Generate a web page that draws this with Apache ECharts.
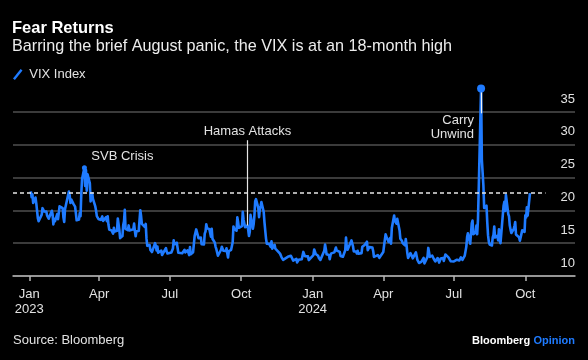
<!DOCTYPE html>
<html><head><meta charset="utf-8">
<script src="https://cdn.jsdelivr.net/npm/echarts@6/dist/echarts.min.js"></script>
<style>html,body{margin:0;padding:0;background:#000;}#c{width:588px;height:360px;}</style>
</head><body><div id="c"></div>
<script>
const dates = [
'2023-01-03','2023-01-04','2023-01-05','2023-01-06','2023-01-09','2023-01-10','2023-01-11','2023-01-12','2023-01-13','2023-01-17','2023-01-18','2023-01-19','2023-01-20','2023-01-23','2023-01-24','2023-01-25','2023-01-26','2023-01-27','2023-01-30','2023-01-31',
'2023-02-01','2023-02-02','2023-02-03','2023-02-06','2023-02-07','2023-02-08','2023-02-09','2023-02-10','2023-02-13','2023-02-14','2023-02-15','2023-02-16','2023-02-17','2023-02-21','2023-02-22','2023-02-23','2023-02-24','2023-02-27','2023-02-28',
'2023-03-01','2023-03-02','2023-03-03','2023-03-06','2023-03-07','2023-03-08','2023-03-09','2023-03-10','2023-03-13','2023-03-14','2023-03-15','2023-03-16','2023-03-17','2023-03-20','2023-03-21','2023-03-22','2023-03-23','2023-03-24','2023-03-27','2023-03-28','2023-03-29','2023-03-30','2023-03-31',
'2023-04-03','2023-04-04','2023-04-05','2023-04-06','2023-04-10','2023-04-11','2023-04-12','2023-04-13','2023-04-14','2023-04-17','2023-04-18','2023-04-19','2023-04-20','2023-04-21','2023-04-24','2023-04-25','2023-04-26','2023-04-27','2023-04-28',
'2023-05-01','2023-05-02','2023-05-03','2023-05-04','2023-05-05','2023-05-08','2023-05-09','2023-05-10','2023-05-11','2023-05-12','2023-05-15','2023-05-16','2023-05-17','2023-05-18','2023-05-19','2023-05-22','2023-05-23','2023-05-24','2023-05-25','2023-05-26','2023-05-30','2023-05-31',
'2023-06-01','2023-06-02','2023-06-05','2023-06-06','2023-06-07','2023-06-08','2023-06-09','2023-06-12','2023-06-13','2023-06-14','2023-06-15','2023-06-16','2023-06-20','2023-06-21','2023-06-22','2023-06-23','2023-06-26','2023-06-27','2023-06-28','2023-06-29','2023-06-30',
'2023-07-03','2023-07-05','2023-07-06','2023-07-07','2023-07-10','2023-07-11','2023-07-12','2023-07-13','2023-07-14','2023-07-17','2023-07-18','2023-07-19','2023-07-20','2023-07-21','2023-07-24','2023-07-25','2023-07-26','2023-07-27','2023-07-28','2023-07-31',
'2023-08-01','2023-08-02','2023-08-03','2023-08-04','2023-08-07','2023-08-08','2023-08-09','2023-08-10','2023-08-11','2023-08-14','2023-08-15','2023-08-16','2023-08-17','2023-08-18','2023-08-21','2023-08-22','2023-08-23','2023-08-24','2023-08-25','2023-08-28','2023-08-29','2023-08-30','2023-08-31',
'2023-09-01','2023-09-05','2023-09-06','2023-09-07','2023-09-08','2023-09-11','2023-09-12','2023-09-13','2023-09-14','2023-09-15','2023-09-18','2023-09-19','2023-09-20','2023-09-21','2023-09-22','2023-09-25','2023-09-26','2023-09-27','2023-09-28','2023-09-29',
'2023-10-02','2023-10-03','2023-10-04','2023-10-05','2023-10-06','2023-10-09','2023-10-10','2023-10-11','2023-10-12','2023-10-13','2023-10-16','2023-10-17','2023-10-18','2023-10-19','2023-10-20','2023-10-23','2023-10-24','2023-10-25','2023-10-26','2023-10-27','2023-10-30','2023-10-31',
'2023-11-01','2023-11-02','2023-11-03','2023-11-06','2023-11-07','2023-11-08','2023-11-09','2023-11-10','2023-11-13','2023-11-14','2023-11-15','2023-11-16','2023-11-17','2023-11-20','2023-11-21','2023-11-22','2023-11-24','2023-11-27','2023-11-28','2023-11-29','2023-11-30',
'2023-12-01','2023-12-04','2023-12-05','2023-12-06','2023-12-07','2023-12-08','2023-12-11','2023-12-12','2023-12-13','2023-12-14','2023-12-15','2023-12-18','2023-12-19','2023-12-20','2023-12-21','2023-12-22','2023-12-26','2023-12-27','2023-12-28','2023-12-29',
'2024-01-02','2024-01-03','2024-01-04','2024-01-05','2024-01-08','2024-01-09','2024-01-10','2024-01-11','2024-01-12','2024-01-16','2024-01-17','2024-01-18','2024-01-19','2024-01-22','2024-01-23','2024-01-24','2024-01-25','2024-01-26','2024-01-29','2024-01-30','2024-01-31',
'2024-02-01','2024-02-02','2024-02-05','2024-02-06','2024-02-07','2024-02-08','2024-02-09','2024-02-12','2024-02-13','2024-02-14','2024-02-15','2024-02-16','2024-02-20','2024-02-21','2024-02-22','2024-02-23','2024-02-26','2024-02-27','2024-02-28','2024-02-29',
'2024-03-01','2024-03-04','2024-03-05','2024-03-06','2024-03-07','2024-03-08','2024-03-11','2024-03-12','2024-03-13','2024-03-14','2024-03-15','2024-03-18','2024-03-19','2024-03-20','2024-03-21','2024-03-22','2024-03-25','2024-03-26','2024-03-27','2024-03-28',
'2024-04-01','2024-04-02','2024-04-03','2024-04-04','2024-04-05','2024-04-08','2024-04-09','2024-04-10','2024-04-11','2024-04-12','2024-04-15','2024-04-16','2024-04-17','2024-04-18','2024-04-19','2024-04-22','2024-04-23','2024-04-24','2024-04-25','2024-04-26','2024-04-29','2024-04-30',
'2024-05-01','2024-05-02','2024-05-03','2024-05-06','2024-05-07','2024-05-08','2024-05-09','2024-05-10','2024-05-13','2024-05-14','2024-05-15','2024-05-16','2024-05-17','2024-05-20','2024-05-21','2024-05-22','2024-05-23','2024-05-24','2024-05-28','2024-05-29','2024-05-30','2024-05-31',
'2024-06-03','2024-06-04','2024-06-05','2024-06-06','2024-06-07','2024-06-10','2024-06-11','2024-06-12','2024-06-13','2024-06-14','2024-06-17','2024-06-18','2024-06-20','2024-06-21','2024-06-24','2024-06-25','2024-06-26','2024-06-27','2024-06-28',
'2024-07-01','2024-07-02','2024-07-03','2024-07-05','2024-07-08','2024-07-09','2024-07-10','2024-07-11','2024-07-12','2024-07-15','2024-07-16','2024-07-17','2024-07-18','2024-07-19','2024-07-22','2024-07-23','2024-07-24','2024-07-25','2024-07-26','2024-07-29','2024-07-30','2024-07-31',
'2024-08-01','2024-08-02','2024-08-05','2024-08-06','2024-08-07','2024-08-08','2024-08-09','2024-08-12','2024-08-13','2024-08-14','2024-08-15','2024-08-16','2024-08-19','2024-08-20','2024-08-21','2024-08-22','2024-08-23','2024-08-26','2024-08-27','2024-08-28','2024-08-29','2024-08-30',
'2024-09-03','2024-09-04','2024-09-05','2024-09-06','2024-09-09','2024-09-10','2024-09-11','2024-09-12','2024-09-13','2024-09-16','2024-09-17','2024-09-18','2024-09-19','2024-09-20','2024-09-23','2024-09-24','2024-09-25','2024-09-26','2024-09-27','2024-09-30',
'2024-10-01','2024-10-02','2024-10-03','2024-10-04','2024-10-07'
];
const vix = [
22.90,22.01,22.46,21.13,21.97,21.07,21.09,18.83,18.35,19.36,20.34,20.52,19.85,19.81,19.20,19.08,18.73,18.51,19.94,19.40,
17.87,18.73,18.33,19.43,18.66,19.63,20.63,20.53,20.34,18.91,18.23,20.17,20.02,22.87,22.29,21.14,21.67,20.95,20.70,
20.58,19.59,18.49,18.61,19.59,19.11,22.61,24.80,26.52,23.73,26.14,22.99,25.51,24.12,21.38,22.26,22.61,21.74,20.60,19.97,19.12,19.02,18.70,
18.55,18.58,19.08,18.40,18.97,18.34,19.09,17.80,17.07,16.95,16.83,16.46,17.35,16.77,16.89,18.76,18.84,17.03,15.78,
16.08,17.78,18.34,20.09,17.19,16.98,17.71,16.94,16.93,17.03,17.12,17.99,16.87,16.05,16.81,16.87,18.53,20.03,19.14,17.95,17.46,17.94,
15.65,14.60,14.73,13.96,13.94,13.65,13.83,15.01,14.61,13.88,14.50,13.54,13.88,13.20,12.91,13.44,14.25,13.74,13.43,13.54,13.59,
13.57,14.18,15.44,14.83,15.07,14.84,13.54,13.61,13.34,13.48,13.30,13.76,13.99,13.60,13.91,13.86,13.19,14.41,13.33,13.63,
13.93,16.09,15.92,17.10,15.77,15.99,15.96,15.85,14.84,14.82,16.46,16.78,17.89,17.30,17.13,16.97,15.98,17.20,15.68,15.08,14.45,14.09,13.57,
13.09,14.00,14.45,14.40,13.84,13.80,14.23,13.48,12.82,13.79,14.00,14.11,15.14,17.54,17.20,16.90,18.94,18.22,17.34,17.52,
17.61,19.78,18.58,18.49,17.45,17.70,17.03,16.09,16.69,19.32,17.21,17.88,19.22,21.40,21.71,20.37,18.97,20.19,20.68,21.27,19.75,18.14,
16.87,15.66,14.91,14.89,14.81,14.45,15.29,14.17,14.76,14.16,14.18,14.32,13.80,13.41,13.35,12.85,12.46,12.69,12.69,12.98,12.92,
12.63,13.08,12.85,12.97,12.35,12.35,12.63,12.07,12.19,12.48,12.28,12.56,12.53,13.67,13.65,13.03,12.99,12.43,12.47,12.45,
13.20,14.04,14.13,13.35,13.08,12.76,12.69,12.44,12.70,13.84,14.79,14.13,13.30,13.19,12.55,13.14,13.45,13.26,13.60,13.31,14.35,
13.88,13.85,13.67,13.06,12.83,12.79,12.93,13.93,15.85,14.38,14.01,14.24,15.42,15.34,14.54,13.75,13.74,13.43,13.84,13.40,
13.11,13.49,14.46,14.50,14.44,14.74,15.23,13.93,13.75,14.40,14.41,14.33,13.82,12.92,13.06,13.06,13.19,13.24,12.78,13.01,
13.65,14.61,14.33,16.35,16.03,15.19,15.22,15.80,14.91,17.31,19.23,18.40,18.21,18.00,18.71,16.94,15.69,15.97,15.37,15.03,14.67,15.65,
14.68,13.49,12.75,13.49,13.23,13.00,12.69,12.55,13.60,13.42,12.45,12.42,11.99,12.15,11.86,12.29,12.77,11.93,12.92,14.28,14.47,12.92,
13.11,13.16,12.63,12.58,12.22,12.74,12.85,12.04,11.94,12.66,12.75,12.30,13.28,13.20,12.84,12.55,12.55,12.24,12.44,
12.22,12.03,12.09,12.48,12.37,12.51,12.85,12.85,12.46,13.12,13.19,14.48,15.93,16.52,14.91,14.72,18.04,18.46,16.39,16.60,17.69,16.36,
18.59,23.39,38.57,27.71,27.85,23.79,20.37,20.71,18.12,16.19,15.23,14.80,14.65,15.88,16.27,17.55,15.86,16.15,15.43,17.11,15.65,15.00,
20.72,21.32,19.90,22.38,19.45,19.08,17.69,17.07,16.56,17.14,17.61,18.23,16.33,16.15,15.89,15.39,15.41,15.37,16.96,16.73,
19.26,18.90,20.49,19.21,22.64
];
const tickDates = ['2023-01-01','2023-04-01','2023-07-01','2023-10-01','2024-01-01','2024-04-01','2024-07-01','2024-10-01'];
const tickLabels = ['Jan\n2023','Apr','Jul','Oct','Jan\n2024','Apr','Jul','Oct'];
const annotationDates = ['2023-03-13','2023-10-09','2024-08-05'];
const annotationLabels = ['SVB Crisis','Hamas Attacks','Carry\nUnwind'];
const seriesName = 'VIX Index';

const FONT = "'Liberation Sans', Arial, sans-serif";
const BLUE = '#1f7bff';
const TXT = '#e2e2e2';
const ts = s => Date.parse(s + 'T00:00:00Z');
const DAY = 864e5;
const xMin = ts('2022-12-11');
const xMax = ts('2024-12-04');
const tickTs = tickDates.map(ts);
const data = dates.map((d, i) => [ts(d), vix[i]]);
const valAt = d => vix[dates.indexOf(d)];
const lastT = ts(dates[dates.length - 1]);
const lastV = vix[vix.length - 1];

const [svbD, hamasD, carryD] = annotationDates;
const [svbL, hamasL, carryL] = annotationLabels;

const chart = echarts.init(document.getElementById('c'), null, {renderer: 'canvas'});
chart.setOption({
  backgroundColor: '#000',
  animation: false,
  textStyle: {fontFamily: FONT},
  title: {
    text: 'Fear Returns',
    subtext: 'Barring the brief August panic, the VIX is at an 18-month high',
    left: 12, top: 19, padding: 0, itemGap: 1,
    textStyle: {color: '#fff', fontSize: 16.5, fontWeight: 'bold', lineHeight: 18, fontFamily: FONT},
    subtextStyle: {color: '#ececec', fontSize: 16.2, lineHeight: 18, fontFamily: FONT}
  },
  legend: {
    data: [seriesName], left: 13, top: 68, padding: 0, itemGap: 10,
    itemWidth: 11, itemHeight: 11,
    icon: 'path://M0,10 L8,0 L10,1.6 L2,11.6 Z',
    textStyle: {color: TXT, fontSize: 13, fontFamily: FONT, padding: [0,0,0,1]}
  },
  grid: {left: 13, right: 13, top: 79.2, bottom: 84},
  xAxis: {
    type: 'value', min: xMin, max: xMax,
    axisLine: {show: true, lineStyle: {color: '#b5b5b5', width: 1.5}},
    axisTick: {show: true, customValues: tickTs, length: 5, lineStyle: {color: '#b5b5b5', width: 1.5}},
    axisLabel: {
      customValues: tickTs, color: TXT, fontSize: 13, lineHeight: 15, margin: 11, fontFamily: FONT,
      formatter: v => { const i = tickTs.findIndex(t => Math.abs(t - v) < DAY); return i >= 0 ? tickLabels[i] : ''; }
    },
    splitLine: {show: false}
  },
  yAxis: {
    type: 'value', position: 'right', min: 10, max: 40, interval: 5,
    axisLine: {show: false}, axisTick: {show: false},
    axisLabel: {inside: true, margin: 0, showMaxLabel: false, color: TXT, fontSize: 13, fontFamily: FONT, verticalAlign: 'bottom', lineHeight: 14, padding: [0,0,6,0]},
    splitLine: {show: true, showMaxLine: false, lineStyle: {color: '#4f4f4f', width: 1.5}}
  },
  series: [{
    name: seriesName, type: 'line', data: data, showSymbol: false,
    lineStyle: {color: BLUE, width: 2.6, join: 'round'}, itemStyle: {color: BLUE},
    markLine: {
      silent: true, symbol: ['none', 'none'],
      data: [
        [{coord: [xMin, lastV], lineStyle: {type: [4, 3], color: '#e6e6e6', width: 1.5}, label: {show: false}},
         {coord: [lastT + 20 * DAY, lastV]}],
        [{coord: [ts(hamasD), valAt(hamasD)], lineStyle: {type: 'solid', color: '#e6e6e6', width: 1.2},
          label: {show: true, position: 'end', formatter: hamasL, color: TXT, fontSize: 13, fontFamily: FONT, distance: 2}},
         {coord: [ts(hamasD), 30.7]}],
        [{coord: [ts(carryD), valAt(carryD)], lineStyle: {type: 'solid', color: '#f0f0f0', width: 1.2}, label: {show: false}},
         {coord: [ts(carryD), 34.8]}]
      ]
    },
    markPoint: {
      silent: true,
      data: [
        {coord: [ts(svbD), valAt(svbD)], symbol: 'circle', symbolSize: 5, itemStyle: {color: BLUE},
         label: {show: true, formatter: svbL, color: TXT, fontSize: 13, fontFamily: FONT, offset: [38, -11]}},
        {coord: [ts(carryD), valAt(carryD)], symbol: 'circle', symbolSize: 8, itemStyle: {color: BLUE},
         label: {show: false}},
        {coord: [ts(carryD), valAt(carryD)], symbol: 'circle', symbolSize: 0,
         label: {show: true, formatter: carryL, color: TXT, fontSize: 13, lineHeight: 13.5, fontFamily: FONT, align: 'right', offset: [-7, 39]}}
      ]
    }
  }],
  graphic: [
    {type: 'text', left: 13, top: 334, style: {text: 'Source: Bloomberg', fill: TXT, font: "13px " + FONT}},
    {type: 'text', right: 13, top: 335, style: {
      text: '{b|Bloomberg} {o|Opinion}',
      rich: {b: {fill: '#fff', font: "bold 11px " + FONT}, o: {fill: BLUE, font: "bold 11px " + FONT}}
    }}
  ]
});
</script></body></html>
